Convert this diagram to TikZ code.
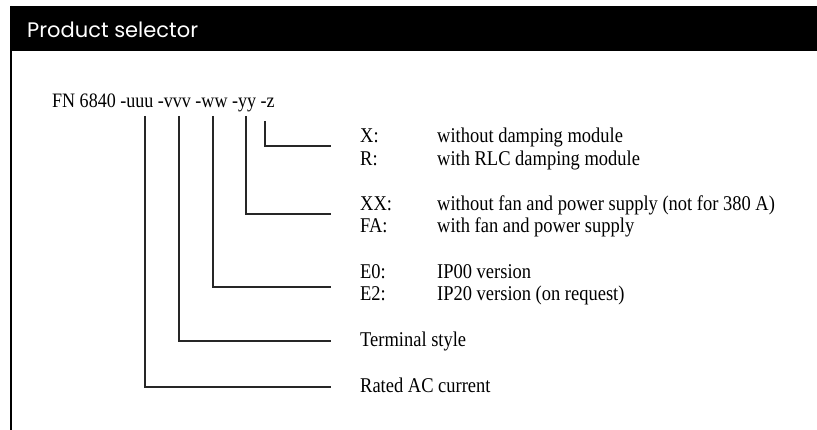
\documentclass[tikz,border=0pt]{standalone}
\usepackage{fontspec}
\setmainfont{Liberation Serif}[FakeStretch=0.88]
\newfontfamily\titlefont{Poppins}
\usetikzlibrary{positioning}

\begin{document}
\begin{tikzpicture}[
    x=1pt, y=-1pt,
    entry/.style={inner sep=0pt, anchor=base west, font=\fontsize{21}{24}\selectfont},
    lead/.style={draw=black!85, line width=1.2pt},
    header/.style={fill=black, draw=none}
]
\useasboundingbox (0,0) rectangle (817,430);
% frame
\fill[header] (10,6) rectangle (817,51);
\draw[line width=2pt] (11,6) -- (11,430);
\node[anchor=base west, inner sep=0pt, text=white, font=\titlefont\fontsize{21}{24}\selectfont] (title) at (27,38) {Product selector};
% type code
\node[entry, font=\fontsize{20.5}{24}\selectfont] (code) at (52,108) {FN 6840 -uuu -vvv -ww -yy -z};
% options
\node[entry] (kx) at (360,143) {X:};
\node[entry] (dx) at (437,143) {without damping module};
\node[entry] (kr) at (360,166) {R:};
\node[entry] (dr) at (437,166) {with RLC damping module};
\node[entry] (kxx) at (360,211) {XX:};
\node[entry] (dxx) at (437,211) {without fan and power supply (not for 380 A)};
\node[entry] (kfa) at (360,233) {FA:};
\node[entry] (dfa) at (437,233) {with fan and power supply};
\node[entry] (ke0) at (360,279) {E0:};
\node[entry] (de0) at (437,279) {IP00 version};
\node[entry] (ke2) at (360,301) {E2:};
\node[entry] (de2) at (437,301) {IP20 version (on request)};
\node[entry] (term) at (360,347) {Terminal style};
\node[entry] (rated) at (360,392) {Rated AC current};
% leads
\foreach \n/\x/\y/\t in {u/145/387/116, v/179/341/116, w/213/287/116, y/246/214/116, z/265/146/121} {
    \coordinate (t\n) at (\x,\t);
    \coordinate (e\n) at (331,\y);
    \draw[lead] (t\n) |- (e\n);
}
\end{tikzpicture}
\end{document}
